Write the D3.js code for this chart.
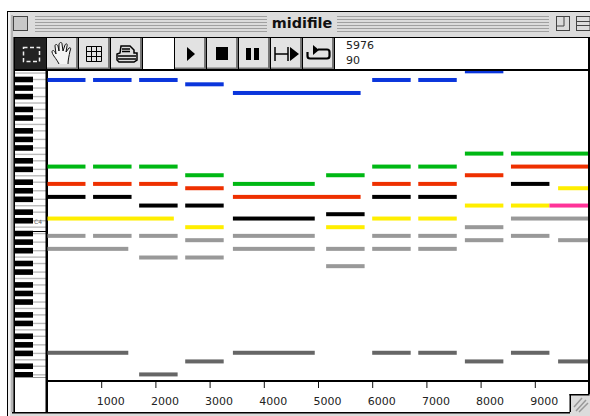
<!DOCTYPE html>
<html>
<head>
<meta charset="utf-8">
<script src="https://d3js.org/d3.v7.min.js"></script>
<style>
body { margin: 0; background: #fff; }
svg { display: block; }
text { font-family: "DejaVu Sans", sans-serif; }
</style>
</head>
<body>
<svg id="win" width="590" height="416"></svg>
<script>
// notes are [start ms, length ms, midi pitch]
var blueNotes = [[0,710,94],[850,710,94],[1700,710,94],[2550,710,93],[3430,2356,91],[6000,710,94],[6850,710,94],[7710,710,96]];
var greenNotes = [[0,710,74],[850,710,74],[1700,710,74],[2550,710,72],[3430,1510,70],[5150,710,72],[6000,710,74],[6850,710,74],[7710,710,77],[8560,1500,77]];
var redNotes = [[0,710,70],[850,710,70],[1700,710,70],[2550,710,69],[3430,2356,67],[6000,710,70],[6850,710,70],[7710,710,72],[8560,1500,74]];
var blackNotes = [[0,710,67],[850,710,67],[1700,710,65],[2550,710,65],[3430,1510,62],[5150,710,63],[6000,710,67],[6850,710,67],[8560,710,70]];
var yellowNotes = [[0,2340,62],[2550,710,60],[5150,710,60],[6000,710,62],[6850,710,62],[7710,710,65],[8560,710,65],[9430,710,69]];
var pinkNotes = [[9270,800,65]];
var grayNotes = [[0,710,58],[850,710,58],[1700,710,58],[2550,710,57],[3430,1510,58],[6000,710,58],[6850,710,58],[7710,710,60],[8560,1500,62]];
var gray2Notes = [[0,1500,55],[1700,710,53],[2550,710,53],[3430,1510,55],[5150,710,55],[5150,710,51],[6000,710,55],[6850,710,55],[7710,710,57],[8560,710,58],[9430,710,57]];
var darkNotes = [[0,1500,31],[1700,710,26],[2550,710,29],[3430,1510,31],[6000,710,31],[6850,710,31],[7710,710,29],[8560,710,31],[9430,710,29]];
var timeTicks = [1000,2000,3000,4000,5000,6000,7000,8000,9000];
var infoLines = ["5976","90"];
var titleText = "midifile";

var voices = [
    {notes: darkNotes, color: "#666666"},
    {notes: gray2Notes, color: "#999999"},
    {notes: grayNotes, color: "#999999"},
    {notes: yellowNotes, color: "#ffee00"},
    {notes: pinkNotes, color: "#ff3399"},
    {notes: blackNotes, color: "#000000"},
    {notes: redNotes, color: "#ee3000"},
    {notes: greenNotes, color: "#00b814"},
    {notes: blueNotes, color: "#0a35dc"}
];

var svg = d3.select("#win");

function rect(g, x, y, w, h, fill) {
    return g.append("rect").attr("x", x).attr("y", y).attr("width", w).attr("height", h).attr("fill", fill);
}
function path(g, d, fill, stroke, sw) {
    return g.append("path").attr("d", d).attr("fill", fill || "none")
        .attr("stroke", stroke || "none").attr("stroke-width", sw || 1);
}

// Window frame
rect(svg, 7, 11, 583, 405, "#000");
rect(svg, 8, 12, 582, 404, "#dcdcdc");
rect(svg, 8, 12, 2, 404, "#f2f2f2");
rect(svg, 11, 15, 2, 397, "#b4b4b4");
rect(svg, 14, 37, 576, 375, "#000");
rect(svg, 13, 37, 1, 375, "#555");

// Title bar stripes
var stripes = svg.append("g").attr("stroke", "#a0a0a0");
d3.range(16, 32, 3).forEach(function(y) {
    stripes.append("line").attr("x1", 35).attr("x2", 267).attr("y1", y + .5).attr("y2", y + .5);
    stripes.append("line").attr("x1", 337).attr("x2", 549).attr("y1", y + .5).attr("y2", y + .5);
});
rect(svg, 13.5, 16.5, 14, 14, "#c8c8c8").attr("stroke", "#444");
rect(svg, 556.5, 16.5, 13, 14, "#dcdcdc").attr("stroke", "#444");
path(svg, "M557,26H564V17", null, "#444");
rect(svg, 576.5, 16.5, 13.5, 14, "#dcdcdc").attr("stroke", "#444");
path(svg, "M577,21.5H590M577,25.5H590", null, "#444");
svg.append("text").attr("x", 302).attr("y", 28).attr("text-anchor", "middle")
    .attr("font-size", 14.4).attr("font-weight", "bold").attr("fill", "#111").text(titleText);

// Toolbar
var buttonX = [47, 79, 111, 175, 207, 239, 271, 303];
var tools = svg.append("g");
rect(tools, 15, 38, 31, 31, "#222");
rect(tools, 143, 38, 31, 31, "#fff");
rect(tools, 335, 38, 253, 31, "#fff");
buttonX.forEach(function(x) {
    rect(tools, x, 38, 30.5, 31, "#e2e2e2");
    rect(tools, x + 29, 38, 1.5, 31, "#777");
    rect(tools, x, 67.5, 30.5, 1.5, "#777");
});
// marquee
rect(tools, 23.5, 47.5, 16, 14, "none").attr("stroke", "#eee").attr("stroke-width", 1.5).attr("stroke-dasharray", "4 2.5");
// hand
path(tools, "M59,64C56,58 53,56 52,52C52,50 54,50 55,52L56,54L55,46C55,44 57,44 58,46L59,51L59,44C60,42 62,42 62,44L63,51L65,45C66,43 68,44 67,46L66,52L69,48C71,47 71,49 70,51C69,56 68,60 68,64", "#f4f4f4", "#111", 1);
// grid
var grid = tools.append("g").attr("stroke", "#000").attr("stroke-width", 1);
d3.range(0, 4).forEach(function(i) {
    grid.append("line").attr("x1", 86.5 + i * 5).attr("x2", 86.5 + i * 5).attr("y1", 46.5).attr("y2", 61.5);
    grid.append("line").attr("y1", 46.5 + i * 5).attr("y2", 46.5 + i * 5).attr("x1", 86.5).attr("x2", 101.5);
});
// printer
path(tools, "M121,46H130L134,50V53H137V60L134,62H119L117,60V54L120,53Z", "#ddd", "#000", 1.5);
path(tools, "M118,56H136M118,59H136M122,49H130M122,51.5H130", null, "#000", 1.5);
// play, stop, pause, step, loop
path(tools, "M187,47L195,54L187,61Z", "#000");
rect(tools, 216, 47, 12, 13, "#000");
rect(tools, 246, 48, 5, 12, "#000");
rect(tools, 254, 48, 5, 12, "#000");
path(tools, "M275,47V61M275,54H288M288,47V61", null, "#000", 1.5);
path(tools, "M290,47L299,54L290,61Z", "#000");
path(tools, "M318,49.5H327Q329.5,49.5 329.5,52V56Q329.5,58.5 327,58.5H310Q307.5,58.5 307.5,56V52", null, "#000", 2.2);
path(tools, "M313,45L319,50L313,55Z", "#000");

svg.append("g").selectAll("text").data(infoLines).enter().append("text")
    .attr("x", 346).attr("y", function(d, i) { return 49 + i * 15; })
    .attr("font-size", 11).attr("fill", "#222").text(function(d) { return d; });

// Scales
var x = d3.scaleLinear().domain([0, 10000]).range([47, 589]);
var y = d3.scaleLinear().domain([20, 100]).range([400.4, 54]);
var keyY = d3.scaleLinear().domain([20, 100]).range([396.2, 53.8]);

// Plot and piano background
rect(svg, 48, 71, 540, 323, "#fff");
rect(svg, 15, 71, 31, 341, "#fff");
rect(svg, 48, 383, 522, 29, "#fff");
rect(svg, 570, 383, 18, 11, "#fff");

// Piano keys drawn from the same pitch numbers
var isBlack = function(p) { return [1, 3, 6, 8, 10].indexOf(p % 12) >= 0; };
var pitches = d3.range(24, 100);
var piano = svg.append("g").attr("clip-path", "url(#pianoClip)");
svg.append("clipPath").attr("id", "pianoClip").append("rect").attr("x", 15).attr("y", 71).attr("width", 31).attr("height", 307);
var lines = [];
pitches.forEach(function(p) {
    if (isBlack(p)) lines.push(p);
    else if (p % 12 === 0 || p % 12 === 5) lines.push(p - 0.5);
});
piano.selectAll("line.key").data(lines).enter().append("line").classed("key", true)
    .attr("x1", 15).attr("x2", 46)
    .attr("y1", keyY).attr("y2", keyY)
    .attr("stroke", "#bbbbbb").attr("stroke-width", 1.4);
piano.selectAll("rect.black").data(pitches.filter(isBlack)).enter().append("rect").classed("black", true)
    .attr("x", 15).attr("width", 18).attr("height", 5.6)
    .attr("y", function(p) { return keyY(p) - 2.8; })
    .attr("fill", "#000");
rect(svg, 15, 377, 31, 1, "#999");
path(svg, "M33,231.5H46", null, "#000", 1);
svg.append("text").attr("x", 34).attr("y", 224).attr("font-size", 6).attr("fill", "#666").text("C4");

// Notes
svg.append("clipPath").attr("id", "plotClip").append("rect").attr("x", 47).attr("y", 71).attr("width", 541).attr("height", 308);
var notes = svg.append("g").attr("clip-path", "url(#plotClip)");
voices.forEach(function(v) {
    notes.append("g").attr("fill", v.color).selectAll("rect").data(v.notes).enter().append("rect")
        .attr("x", function(d) { return x(d[0]); })
        .attr("width", function(d) { return x(d[0] + d[1]) - x(d[0]); })
        .attr("y", function(d) { return y(d[2]) - 2; })
        .attr("height", 4);
});

// Frame lines around the plot
rect(svg, 46, 69.5, 542, 1.5, "#000");
rect(svg, 45.5, 69, 2, 343, "#000");
rect(svg, 588, 69, 2, 325, "#000");

// Time axis
var xAxis = d3.axisBottom(x).tickValues(timeTicks).tickSize(7).tickSizeOuter(0).tickFormat(d3.format("d"));
var axis = svg.append("g").attr("transform", "translate(0,381)").call(xAxis);
axis.select(".domain").remove();
rect(svg, 46, 380, 542, 2, "#000");
axis.selectAll(".tick line").attr("stroke", "#111");
axis.selectAll(".tick text").attr("x", -5).attr("y", 20).attr("dy", ".32em")
    .style("text-anchor", "start").attr("font-family", "DejaVu Sans").attr("font-size", 11).attr("fill", "#222");

// Size box
rect(svg, 570, 394, 20, 22, "#dcdcdc");
rect(svg, 569.5, 394, 20, 1.5, "#000");
rect(svg, 569.5, 394, 1.5, 18, "#000");
path(svg, "M576,411L586,400M579,412L588,403M574,407L582,398", null, "#999", 1.5);
rect(svg, 12, 412, 558, 1.5, "#000");
</script>
</body>
</html>
